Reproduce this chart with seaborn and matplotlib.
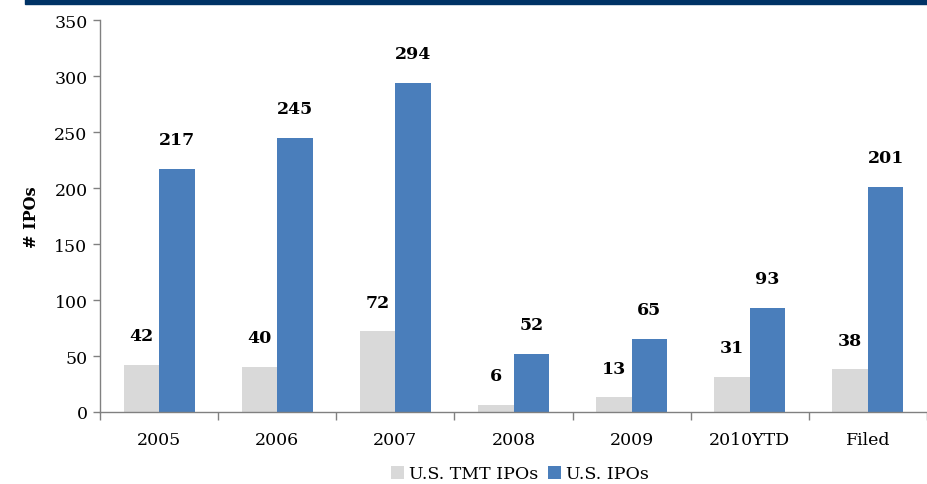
import matplotlib
matplotlib.use("Agg")
import matplotlib.pyplot as plt
import seaborn as sns
import pandas as pd
from matplotlib.patches import Rectangle

categories = ["2005", "2006", "2007", "2008", "2009", "2010YTD", "Filed"]
tmt_ipos = [42, 40, 72, 6, 13, 31, 38]
us_ipos = [217, 245, 294, 52, 65, 93, 201]
series_names = ["U.S. TMT IPOs", "U.S. IPOs"]
colors = ["#D9D9D9", "#4A7EBB"]

df = pd.DataFrame({
    "cat": categories * 2,
    "val": tmt_ipos + us_ipos,
    "series": [series_names[0]] * len(categories) + [series_names[1]] * len(categories),
})

sns.set_style("white")
plt.rcParams["font.family"] = ["DejaVu Serif"]
plt.rcParams["text.color"] = "black"
plt.rcParams["axes.labelcolor"] = "black"
plt.rcParams["xtick.color"] = "black"
plt.rcParams["ytick.color"] = "black"

fig = plt.figure(figsize=(9.27, 4.85), dpi=100)
ax = fig.add_axes([100 / 927, (485 - 413) / 485, 1 - 100 / 927, (413 - 21) / 485])

sns.barplot(data=df, x="cat", y="val", hue="series", palette=colors,
            width=0.6, gap=0, ax=ax, legend=True, saturation=1, linewidth=0)

ax.set_ylim(0, 350)
ax.set_xlim(-0.5, -0.5 + 827 / 120)
ax.set_yticks(range(0, 351, 50))
ax.set_xlabel("")
ax.set_ylabel("# IPOs", fontsize=11.5, fontweight="bold", labelpad=10, color="black")

for c in ax.containers:
    ax.bar_label(c, padding=15, fontsize=12.5, fontweight="bold", color="black")

ax.set_xticks([i - 0.5 for i in range(len(categories) + 1)], minor=False)
ax.set_xticklabels([])
ax.set_xticks(range(len(categories)), minor=True)
ax.set_xticklabels(categories, minor=True, fontsize=12.5)
ax.tick_params(axis="x", which="major", direction="out", length=6, color="#808080", width=1, bottom=True)
ax.tick_params(axis="x", which="minor", length=0, pad=14, bottom=True, labelcolor="black")
ax.tick_params(axis="y", direction="out", length=5, color="#808080", width=1, labelsize=12.5, pad=4,
               left=True, labelcolor="black")

for s in ["top", "right"]:
    ax.spines[s].set_visible(False)
for s in ["left", "bottom"]:
    ax.spines[s].set_color("#808080")
    ax.spines[s].set_linewidth(1)

leg = ax.legend(loc="center", ncol=2, frameon=False,
                fontsize=12.5, handlelength=0.7, handleheight=0.7, handletextpad=0.3, columnspacing=0.6)
for t in leg.get_texts():
    t.set_color("black")
leg.set_bbox_to_anchor((520 / 927, 10 / 485), transform=fig.transFigure)

fig.patches.append(Rectangle((25 / 927, 1 - 5 / 485), 1, 5 / 485, transform=fig.transFigure,
                             color="#003366", zorder=10))

fig.savefig("out.png", dpi=100)
